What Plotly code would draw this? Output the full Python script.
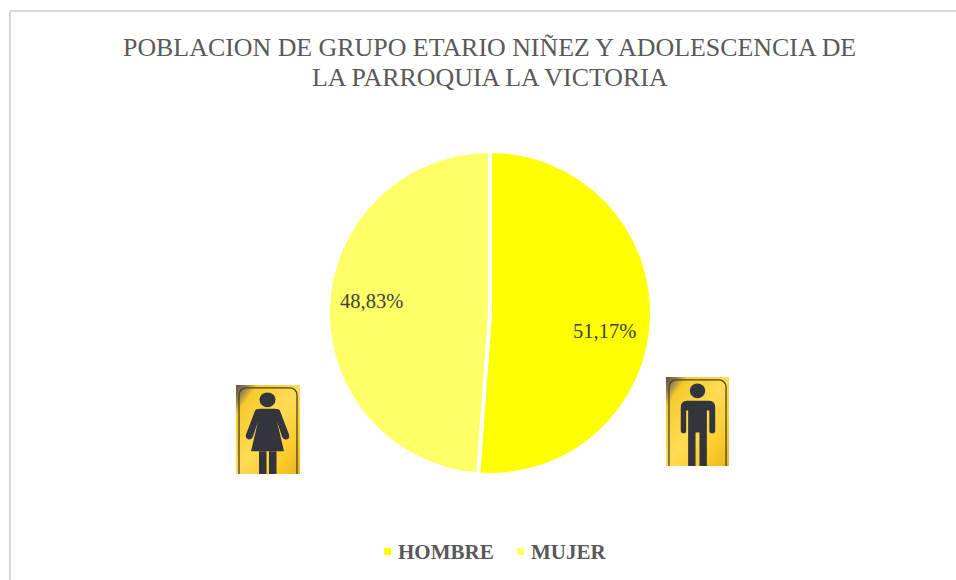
import base64
import plotly.graph_objects as go

categories = ["HOMBRE", "MUJER"]
values = [51.17, 48.83]
colors = ["#FFFF00", "#FFFF66"]
title_lines = ["POBLACION DE GRUPO ETARIO NIÑEZ Y ADOLESCENCIA DE", "LA PARROQUIA LA VICTORIA"]

W, H = 956, 580
FONT = "Liberation Serif"
GREY = "#595959"


def px(x):
    return x / W


def py(y):
    return 1 - y / H


GOLD = """<defs>
<linearGradient id="g" x1="0" y1="0" x2="1" y2="1">
<stop offset="0" stop-color="#5a5048"/><stop offset="0.08" stop-color="#8f7a50"/>
<stop offset="0.17" stop-color="#f6cb2c"/><stop offset="0.5" stop-color="#ffdc55"/>
<stop offset="0.78" stop-color="#fbcc2b"/><stop offset="1" stop-color="#eab71f"/>
</linearGradient></defs>
<rect width="64" height="90" fill="url(#g)"/>
<rect x="3" y="3" width="58" height="95" rx="7" fill="none" stroke="#4a4030" stroke-width="1.3"/>"""

WOMAN = f"""<svg xmlns="http://www.w3.org/2000/svg" width="64" height="90" viewBox="0 0 64 90" preserveAspectRatio="none">{GOLD}
<g fill="#33343c"><ellipse cx="31.5" cy="15" rx="8" ry="7.5"/>
<path d="M19 26 Q20 24 24 24 H39 Q43 24 44 26 L53 50 Q54 55 50 55 Q47 55 46 52 L41 37 L48 67 H15 L22 37 L17 52 Q16 55 13 55 Q9 54 10 50 Z"/>
<rect x="23" y="67" width="7.5" height="23"/><rect x="33" y="67" width="7.5" height="23"/></g></svg>"""

MAN = f"""<svg xmlns="http://www.w3.org/2000/svg" width="64" height="90" viewBox="0 0 64 90" preserveAspectRatio="none">{GOLD}
<g fill="#33343c"><ellipse cx="32" cy="14" rx="7.8" ry="7.5"/>
<path d="M21 24 H44 Q50 24 50 31 V54 Q50 57 47 57 Q44 57 44 54 V34 H41.5 V90 H34 V56 H30 V90 H22.5 V34 H20.5 V54 Q20.5 57 18 57 Q15 57 15 54 V31 Q15 24 21 24 Z"/></g></svg>"""


def uri(svg):
    return "data:image/svg+xml;base64," + base64.b64encode(svg.encode("utf-8")).decode("ascii")


def icon(svg, x0, x1, y0, y1):
    return dict(source=uri(svg), xref="paper", yref="paper", x=px(x0), y=py(y0),
                sizex=(x1 - x0) / W, sizey=(y1 - y0) / H, xanchor="left", yanchor="top",
                sizing="stretch", layer="above")


def pct(v):
    return f"{v:.2f}".replace(".", ",") + "%"


def note(text, x, y, size, color, xanchor="center"):
    return dict(text=text, x=px(x), y=py(y), xref="paper", yref="paper", showarrow=False,
                xanchor=xanchor, yanchor="middle", font=dict(family=FONT, size=size, color=color))


fig = go.Figure(go.Pie(
    labels=categories, values=values, sort=False, direction="clockwise", rotation=0,
    marker=dict(colors=colors, line=dict(color="#FFFFFF", width=4)),
    textinfo="none", showlegend=False,
    domain=dict(x=[px(328), px(652)], y=[py(475), py(151)]),
))

annotations = [
    note(title_lines[0], 489.5, 47, 25.9, GREY),
    note(title_lines[1], 489.5, 77, 25.9, GREY),
    note(pct(values[0]), 604.5, 331, 20.5, "#404040"),
    note(pct(values[1]), 371.5, 301, 20.5, "#404040"),
    note(f"<b>{categories[0]}</b>", 396, 552, 21, GREY, "left"),
    note(f"<b>{categories[1]}</b>", 529, 552, 21, GREY, "left"),
]


def square(x0, x1, y0, y1, color):
    return dict(type="rect", xref="paper", yref="paper", x0=px(x0), x1=px(x1), y0=py(y0), y1=py(y1),
                fillcolor=color, line=dict(width=0))


shapes = [
    dict(type="line", xref="paper", yref="paper", x0=px(10), x1=1, y0=py(11), y1=py(11),
         line=dict(color="#D9D9D9", width=2)),
    dict(type="line", xref="paper", yref="paper", x0=px(10), x1=px(10), y0=py(11), y1=0,
         line=dict(color="#D9D9D9", width=2)),
    square(384, 391, 548, 555, colors[0]),
    square(517, 524, 548, 555, colors[1]),
]

fig.update_layout(
    width=W, height=H, autosize=False, margin=dict(l=0, r=0, t=0, b=0),
    paper_bgcolor="#FFFFFF", plot_bgcolor="#FFFFFF",
    annotations=annotations, shapes=shapes,
    images=[icon(WOMAN, 236, 300, 385, 474), icon(MAN, 666, 729, 377, 466)],
)
fig.write_html(
    "out.html",
    config={"displayModeBar": False},
    post_script="document.body.style.margin='0';document.body.style.overflow='hidden';",
)
